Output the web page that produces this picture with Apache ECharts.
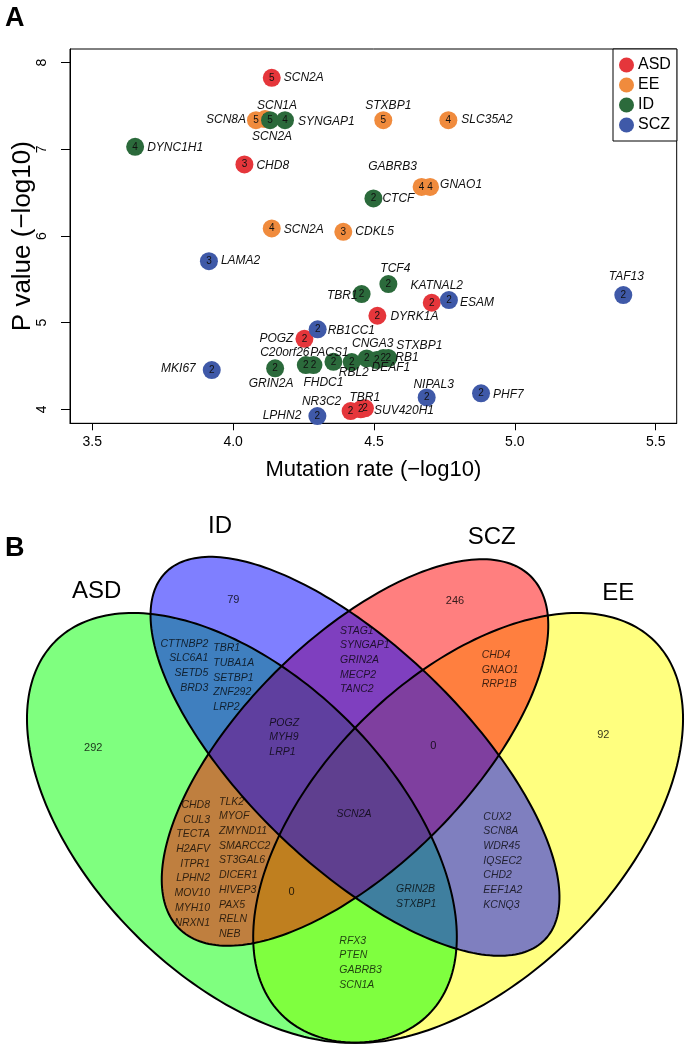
<!DOCTYPE html>
<html><head><meta charset="utf-8">
<script src="https://cdn.jsdelivr.net/npm/echarts@6/dist/echarts.min.js"></script>
<style>html,body{margin:0;padding:0;background:#fff}#c{width:691px;height:1050px}</style>
</head><body><div id="c"></div>
<script>
// ================= Panel A data =================
const groups = ['ASD', 'EE', 'ID', 'SCZ'];
const xTicks = [3.5, 4.0, 4.5, 5.0, 5.5];
const yTicks = [4, 5, 6, 7, 8];

const asdGenes = ['SCN2A', 'CHD8', 'KATNAL2', 'DYRK1A', 'POGZ', 'NR3C2', 'TBR1', 'SUV420H1'];
const asdRate  = [4.137, 4.040, 4.705, 4.512, 4.253, 4.417, 4.453, 4.468];
const asdP     = [7.825, 6.826, 5.230, 5.080, 4.814, 3.980, 4.000, 4.012];
const asdN     = [5, 3, 2, 2, 2, 2, 2, 2];

const eeGenes = ['SCN8A', 'SCN1A', 'STXBP1', 'SLC35A2', 'GABRB3', 'GNAO1', 'SCN2A', 'CDKL5'];
const eeRate  = [4.081, 4.113, 4.533, 4.764, 4.669, 4.699, 4.137, 4.391];
const eeP     = [7.337, 7.349, 7.337, 7.337, 6.567, 6.567, 6.088, 6.048];
const eeN     = [5, 5, 5, 4, 4, 4, 4, 3];

const idGenes = ['SCN2A', 'SYNGAP1', 'DYNC1H1', 'CTCF', 'TCF4', 'TBR1', 'GRIN2A', 'C20orf26', 'FHDC1', 'PACS1', 'RBL2', 'CNGA3', 'DEAF1', 'STXBP1', 'RB1'];
const idRate  = [4.131, 4.184, 3.652, 4.498, 4.551, 4.456, 4.149, 4.258, 4.285, 4.356, 4.421, 4.474, 4.510, 4.533, 4.551];
const idP     = [7.337, 7.337, 7.029, 6.434, 5.445, 5.330, 4.473, 4.511, 4.511, 4.549, 4.546, 4.588, 4.569, 4.592, 4.592];
const idN     = [5, 4, 4, 2, 2, 2, 2, 2, 2, 2, 2, 2, 2, 2, 2];

const sczGenes = ['LAMA2', 'TAF13', 'ESAM', 'RB1CC1', 'MKI67', 'NIPAL3', 'PHF7', 'LPHN2'];
const sczRate  = [3.914, 5.385, 4.766, 4.300, 3.924, 4.687, 4.880, 4.299];
const sczP     = [5.710, 5.318, 5.261, 4.923, 4.453, 4.138, 4.185, 3.923];
const sczN     = [3, 2, 2, 2, 2, 2, 2, 2];

// ================= Panel B data =================
const vennSetNames = ['ASD', 'ID', 'SCZ', 'EE'];
const vennCounts = [292, 79, 246, 92, 0, 0]; // ASD only, ID only, SCZ only, EE only, ID∩SCZ∩EE, ASD∩SCZ∩EE
const asdIdA = ['CTTNBP2', 'SLC6A1', 'SETD5', 'BRD3'];
const asdIdB = ['TBR1', 'TUBA1A', 'SETBP1', 'ZNF292', 'LRP2'];
const asdIdScz = ['POGZ', 'MYH9', 'LRP1'];
const idScz = ['STAG1', 'SYNGAP1', 'GRIN2A', 'MECP2', 'TANC2'];
const sczEe = ['CHD4', 'GNAO1', 'RRP1B'];
const allFour = ['SCN2A'];
const asdSczA = ['CHD8', 'CUL3', 'TECTA', 'H2AFV', 'ITPR1', 'LPHN2', 'MOV10', 'MYH10', 'NRXN1'];
const asdSczB = ['TLK2', 'MYOF', 'ZMYND11', 'SMARCC2', 'ST3GAL6', 'DICER1', 'HIVEP3', 'PAX5', 'RELN', 'NEB'];
const idEe = ['CUX2', 'SCN8A', 'WDR45', 'IQSEC2', 'CHD2', 'EEF1A2', 'KCNQ3'];
const asdIdEe = ['GRIN2B', 'STXBP1'];
const asdEe = ['RFX3', 'PTEN', 'GABRB3', 'SCN1A'];

// ================= layout / style (not data) =================
const FONT = '"Liberation Sans", Arial, Helvetica, sans-serif';
const groupColors = ['#E5363B', '#F08B3D', '#2B6A3B', '#3F59A8'];
// gene-name label placement: side, dx, dy (pixels from point centre)
const asdLab = [['r',12,0],['r',12,1],['t',5,-17],['r',13,1],['l',-11,0],['t',-29,-9],['t',4,-12],['r',9,2]];
const eeLab  = [['l',-10,0],['t',12,-13],['t',5,-14],['r',13,0],['t',-29,-20],['r',10,-2],['r',12,1],['r',12,0]];
const idLab  = [['b',2,17],['r',13,2],['r',12,1],['r',9,0],['t',7,-15],['l',-4,2],['b',-4,15],['t',-21,-12],['b',10,18],['t',-4,-9],['b',2,11],['t',6,-15],['b',14,8],['t',36,-12],['r',7,0]];
const sczLab = [['r',12,0],['t',3,-18],['r',11,3],['r',10,1],['l',-16,-1],['t',7,-13],['r',12,1],['l',-16,0]];

// Venn ellipses (VennDiagram quad layout), in drawing order: EE, ASD, SCZ, ID
const ellipseLayout = [
  {cx:0.65, cy:0.47, a:0.35, b:0.20, rot:45,  fill:'#FFFF00'},
  {cx:0.35, cy:0.47, a:0.35, b:0.20, rot:135, fill:'#00FF00'},
  {cx:0.50, cy:0.57, a:0.33, b:0.15, rot:45,  fill:'#FF0000'},
  {cx:0.50, cy:0.565, a:0.35, b:0.145, rot:136, fill:'#0000FF'}
];
const setNameAnchors = [[0.1574,0.7833],[0.3210,0.8704],[0.6813,0.8554],[0.8492,0.7812]];
const countAnchors = [[0.1529,0.5756],[0.3386,0.7723],[0.6326,0.7714],[0.8293,0.5932],[0.6039,0.5787],[0.4160,0.3854]];
const geneBlocks = [
  [asdIdA, 0.3054, 0.7239, 'right'],
  [asdIdB, 0.3121, 0.7179, 'left'],
  [asdIdScz, 0.3864, 0.6193, 'left'],
  [idScz, 0.4801, 0.7413, 'left'],
  [sczEe, 0.6680, 0.7091, 'left'],
  [asdSczA, 0.3077, 0.5101, 'right'],
  [asdSczB, 0.3196, 0.5145, 'left'],
  [idEe, 0.6702, 0.4946, 'left'],
  [asdIdEe, 0.5544, 0.3987, 'left'],
  [asdEe, 0.4792, 0.3302, 'left']
];
const centreAnchor = [0.4987, 0.4881];

// ================= build =================
const grpRate = [asdRate, eeRate, idRate, sczRate];
const grpP = [asdP, eeP, idP, sczP];
const grpN = [asdN, eeN, idN, sczN];
const grpGenes = [asdGenes, eeGenes, idGenes, sczGenes];
const grpLab = [asdLab, eeLab, idLab, sczLab];

const series = [];
groups.forEach((g, gi) => {
  series.push({
    name: g, type: 'scatter', xAxisIndex: 0, yAxisIndex: 0,
    symbol: 'circle', symbolSize: 18,
    itemStyle: {color: groupColors[gi], opacity: 1},
    data: grpRate[gi].map((x, i) => [x, grpP[gi][i], grpN[gi][i]]),
    label: {show: true, position: 'inside', formatter: p => String(p.value[2]),
      fontSize: 10, color: '#111', fontFamily: FONT},
    emphasis: {disabled: true}, z: 2 + gi
  });
});

const nameData = [];
groups.forEach((g, gi) => {
  grpGenes[gi].forEach((name, i) => {
    nameData.push({value: [grpRate[gi][i], grpP[gi][i]], gene: name, place: grpLab[gi][i]});
  });
});
series.push({
  type: 'custom', xAxisIndex: 0, yAxisIndex: 0, silent: true, z: 10, clip: false,
  data: nameData.map(d => d.value),
  renderItem: (params, api) => {
    const d = nameData[params.dataIndex];
    const p = api.coord([api.value(0), api.value(1)]);
    const side = d.place[0];
    const align = side === 'r' ? 'left' : side === 'l' ? 'right' : 'center';
    return {type: 'text', x: p[0] + d.place[1], y: p[1] + d.place[2],
      style: {text: d.gene, fill: '#111', font: 'italic 12px ' + FONT, align: align, verticalAlign: 'middle'}};
  }
});

function ellipsePoints(e, api) {
  const pts = [];
  const th = e.rot * Math.PI / 180;
  for (let k = 0; k < 240; k++) {
    const t = k / 240 * Math.PI * 2;
    const x = e.cx + e.a * Math.cos(t) * Math.cos(th) - e.b * Math.sin(t) * Math.sin(th);
    const y = e.cy + e.a * Math.cos(t) * Math.sin(th) + e.b * Math.sin(t) * Math.cos(th);
    pts.push(api.coord([x, y]));
  }
  return pts;
}
series.push({
  type: 'custom', xAxisIndex: 1, yAxisIndex: 1, silent: true, clip: false, z: 1,
  data: ellipseLayout.map(e => [e.cx, e.cy]),
  renderItem: (params, api) => {
    const e = ellipseLayout[params.dataIndex];
    return {type: 'polygon', shape: {points: ellipsePoints(e, api)}, style: {fill: e.fill, opacity: 0.5}};
  }
});
series.push({
  type: 'custom', xAxisIndex: 1, yAxisIndex: 1, silent: true, clip: false, z: 2,
  data: ellipseLayout.map(e => [e.cx, e.cy]),
  renderItem: (params, api) => {
    const e = ellipseLayout[params.dataIndex];
    return {type: 'polygon', shape: {points: ellipsePoints(e, api)}, style: {fill: 'none', stroke: '#000', lineWidth: 2}};
  }
});

const vennTexts = [];
vennSetNames.forEach((n, i) => vennTexts.push({pos: setNameAnchors[i], text: n, font: '24px ' + FONT, align: 'center', va: 'middle', fill: '#000', op: 1}));
vennCounts.forEach((c, i) => vennTexts.push({pos: countAnchors[i], text: String(c), font: '11px ' + FONT, align: 'center', va: 'middle', fill: '#000', op: 0.8}));
geneBlocks.forEach(b => vennTexts.push({pos: [b[1], b[2]], text: b[0].join('\n'), font: 'italic 10.5px ' + FONT, align: b[3], va: 'top', fill: '#000', op: 0.75}));
vennTexts.push({pos: centreAnchor, text: allFour.join('\n'), font: 'italic 10.5px ' + FONT, align: 'center', va: 'middle', fill: '#000', op: 0.75});
series.push({
  type: 'custom', xAxisIndex: 1, yAxisIndex: 1, silent: true, clip: false, z: 3,
  data: vennTexts.map(t => t.pos),
  renderItem: (params, api) => {
    const t = vennTexts[params.dataIndex];
    const p = api.coord([api.value(0), api.value(1)]);
    return {type: 'text', x: p[0], y: p[1],
      style: {text: t.text, font: t.font, fill: t.fill, opacity: t.op, align: t.align, verticalAlign: t.va, lineHeight: 14.7}};
  }
});

const option = {
  animation: false,
  backgroundColor: '#fff',
  textStyle: {fontFamily: FONT},
  grid: [
    {left: 70, top: 49, width: 606.7, height: 374.3, show: true, borderColor: '#000', borderWidth: 1, backgroundColor: 'transparent', containLabel: false, outerBoundsMode: 'none'},
    {left: 15.7, top: 503.7, width: 656, height: 542.9, show: false, containLabel: false, outerBoundsMode: 'none'}
  ],
  xAxis: [
    {gridIndex: 0, type: 'value', min: 3.4208, max: 5.5746,
      name: 'Mutation rate (\u2212log10)', nameLocation: 'middle', nameGap: 36, nameMoveOverlap: false,
      nameTextStyle: {fontSize: 22, color: '#000', fontFamily: FONT},
      axisLine: {show: true, onZero: false, lineStyle: {color: '#000', width: 1}},
      axisTick: {show: true, length: 7, customValues: xTicks, lineStyle: {color: '#000'}},
      axisLabel: {show: true, customValues: xTicks, formatter: v => Number(v).toFixed(1), fontSize: 14, color: '#000', margin: 12, fontFamily: FONT},
      splitLine: {show: false}},
    {gridIndex: 1, type: 'value', min: 0.05, max: 0.92, show: false}
  ],
  yAxis: [
    {gridIndex: 0, type: 'value', min: 3.839, max: 8.158,
      name: 'P value (\u2212log10)', nameLocation: 'middle', nameGap: 34, nameRotate: 90, nameMoveOverlap: false,
      nameTextStyle: {fontSize: 26, color: '#000', fontFamily: FONT},
      axisLine: {show: true, onZero: false, lineStyle: {color: '#000', width: 1}},
      axisTick: {show: true, length: 9, customValues: yTicks, lineStyle: {color: '#000'}},
      axisLabel: {show: true, customValues: yTicks, rotate: 90, fontSize: 14, color: '#000', margin: 21, fontFamily: FONT},
      splitLine: {show: false}},
    {gridIndex: 1, type: 'value', min: 0.18, max: 0.90, show: false}
  ],
  legend: {
    data: groups, orient: 'vertical', left: 613, top: 49,
    icon: 'circle', itemWidth: 15, itemHeight: 15, itemGap: 4,
    borderColor: '#000', borderWidth: 1, borderRadius: 0, padding: [8, 6, 8, 6],
    backgroundColor: '#fff', selectedMode: false,
    textStyle: {fontSize: 16, color: '#000', fontFamily: FONT, padding: [0, 0, 0, -1]},
    itemStyle: {borderWidth: 0}
  },
  graphic: [
    {type: 'text', left: 5, top: 5, style: {text: 'A', font: 'bold 27px ' + FONT, fill: '#000'}},
    {type: 'text', left: 5, top: 535, style: {text: 'B', font: 'bold 27px ' + FONT, fill: '#000'}}
  ],
  series: series
};

const chart = echarts.init(document.getElementById('c'), null, {renderer: 'canvas'});
chart.setOption(option);
</script>
</body></html>
